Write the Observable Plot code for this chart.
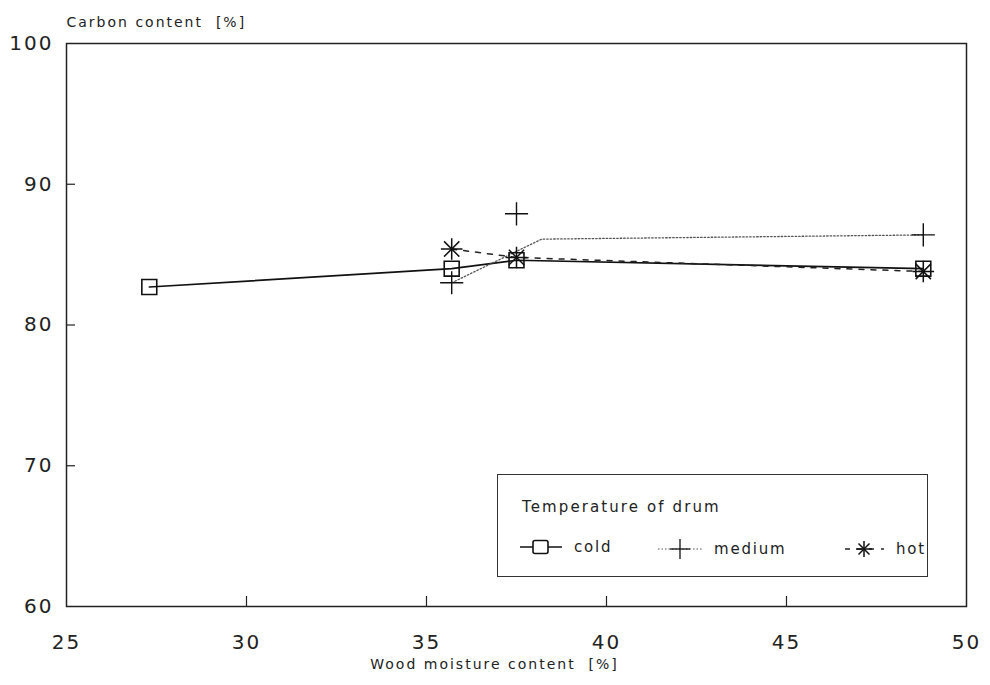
<!DOCTYPE html>
<html>
<head>
<meta charset="utf-8">
<script src="https://cdn.jsdelivr.net/npm/d3@7"></script>
<script src="https://cdn.jsdelivr.net/npm/@observablehq/plot@0.6"></script>
<style>
  html, body { margin: 0; padding: 0; background: #fff; }
  #wrap { position: relative; width: 990px; height: 685px; font-family: "DejaVu Sans", sans-serif; color: #222; }
  #legend { position: absolute; left: 497px; top: 474px; width: 429px; height: 101px; border: 1.5px solid #333; background: #fff; }
  #legend .title { position: absolute; left: 24px; top: 23px; font-size: 15px; letter-spacing: 2.1px; }
  #legend .item { position: absolute; top: 62px; font-size: 15px; letter-spacing: 1.8px; display: flex; align-items: center; }
  #legend svg { margin-right: 12px; }
</style>
</head>
<body>
<div id="wrap"></div>
<script>
// ---- data ----
const xTicks = [25, 30, 35, 40, 45, 50];
const yTicks = [60, 70, 80, 90, 100];
const xInnerTicks = [30, 35, 40, 45];
const yInnerTicks = [70, 80, 90];

const coldX = [27.3, 35.7, 37.5, 48.8];
const coldY = [82.7, 84.0, 84.6, 84.0];

const mediumX = [35.7, 37.5, 48.8];
const mediumY = [83.0, 87.9, 86.4];
// the dotted "medium" curve as drawn (does not join the markers exactly)
const mediumLineX = [35.7, 38.2, 48.8];
const mediumLineY = [83.0, 86.1, 86.4];

const hotX = [35.7, 37.5, 48.8];
const hotY = [85.4, 84.8, 83.8];

const seriesNames = ["cold", "medium", "hot"];
const yTitle = "Carbon content  [%]";
const xTitle = "Wood moisture content  [%]";
const legendTitle = "Temperature of drum";

const rows = (xs, ys) => xs.map((x, i) => ({x, y: ys[i]}));
const cold = rows(coldX, coldY);
const medium = rows(mediumX, mediumY);
const mediumLine = rows(mediumLineX, mediumLineY);
const hot = rows(hotX, hotY);

const ink = "#222";

const chart = Plot.plot({
  width: 990,
  height: 685,
  marginLeft: 66,
  marginRight: 24,
  marginTop: 43,
  marginBottom: 79,
  style: {fontFamily: "DejaVu Sans, sans-serif", color: ink, background: "#fff"},
  x: {domain: [25, 50]},
  y: {domain: [60, 100]},
  marks: [
    Plot.frame({stroke: ink, strokeWidth: 1.5}),
    Plot.axisX({ticks: xTicks, tickSize: 0, tickPadding: 28, fontSize: 20, tickFormat: d => String(d), label: null}),
    Plot.axisY({ticks: yTicks, tickSize: 0, tickPadding: 13, fontSize: 20, tickFormat: d => String(d), label: null}),
    Plot.axisX({ticks: xInnerTicks, tickSize: -10, tickFormat: () => "", label: null, stroke: ink, strokeWidth: 1.2}),
    Plot.axisY({ticks: yInnerTicks, tickSize: -9, tickFormat: () => "", label: null, stroke: ink, strokeWidth: 1.2}),
    Plot.text([yTitle], {frameAnchor: "top-left", dy: -26, fontSize: 14, fill: ink, textAnchor: "start", style: "letter-spacing:2.4px"}),
    Plot.text([xTitle], {frameAnchor: "bottom", dy: 62, dx: -22, fontSize: 14, fill: ink, style: "letter-spacing:1.4px"}),
    Plot.line(cold, {x: "x", y: "y", stroke: "#111", strokeWidth: 1.7}),
    Plot.line(mediumLine, {x: "x", y: "y", stroke: "#555", strokeWidth: 1.3, strokeDasharray: "1.5,2"}),
    Plot.line(hot, {x: "x", y: "y", stroke: "#222", strokeWidth: 1.5, strokeDasharray: "5,7"}),
    Plot.dot(cold, {x: "x", y: "y", symbol: "square2", r: 9.5, stroke: "#111", strokeWidth: 1.6, fill: "none"}),
    Plot.dot(medium, {x: "x", y: "y", symbol: "plus", r: 7.5, stroke: "#111", strokeWidth: 1.4}),
    Plot.dot(hot, {x: "x", y: "y", symbol: "plus", r: 7, stroke: "#111", strokeWidth: 1.5}),
    Plot.dot(hot, {x: "x", y: "y", symbol: "times", r: 7, stroke: "#111", strokeWidth: 1.5})
  ]
});
chart.style.letterSpacing = "2px";

const wrap = document.getElementById("wrap");
wrap.appendChild(chart);

// legend box inside the plot area
const legend = document.createElement("div");
legend.id = "legend";
const sym = {
  cold: `<svg width="42" height="20"><line x1="0" y1="10" x2="42" y2="10" stroke="#111" stroke-width="1.6"/><rect x="13" y="3.5" width="15" height="13" rx="2" fill="#fff" stroke="#111" stroke-width="1.6"/></svg>`,
  medium: `<svg width="44" height="24"><line x1="0" y1="12" x2="44" y2="12" stroke="#555" stroke-width="1.2" stroke-dasharray="1.5,2"/><line x1="12" y1="12" x2="32" y2="12" stroke="#111" stroke-width="1.3"/><line x1="22" y1="2" x2="22" y2="22" stroke="#111" stroke-width="1.3"/></svg>`,
  hot: `<svg width="40" height="24"><line x1="0" y1="12" x2="40" y2="12" stroke="#222" stroke-width="1.4" stroke-dasharray="5,7" stroke-dashoffset="-1"/><g stroke="#111" stroke-width="1.5"><line x1="12" y1="12" x2="28" y2="12"/><line x1="20" y1="4" x2="20" y2="20"/><line x1="14.5" y1="6.5" x2="25.5" y2="17.5"/><line x1="25.5" y1="6.5" x2="14.5" y2="17.5"/></g></svg>`
};
const lefts = {cold: 22, medium: 160, hot: 346};
legend.innerHTML = `<div class="title">${legendTitle}</div>` +
  seriesNames.map(n => `<div class="item" style="left:${lefts[n]}px">${sym[n]}<span>${n}</span></div>`).join("");
wrap.appendChild(legend);
</script>
</body>
</html>
